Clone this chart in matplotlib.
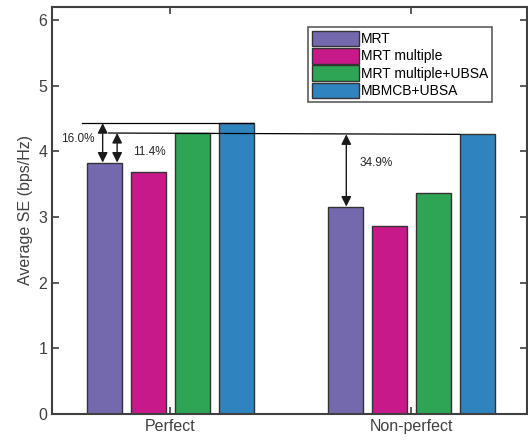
import matplotlib
matplotlib.use('Agg')
import matplotlib.pyplot as plt
import numpy as np

plt.rcParams['font.family'] = ['Liberation Sans', 'DejaVu Sans']

groups = ['Perfect', 'Non-perfect']
methods = ['MRT', 'MRT multiple', 'MRT multiple+UBSA', 'MBMCB+UBSA']
colors = ['#7569AD', '#C7198A', '#2EA554', '#2F83BF']
se_perfect = [3.83, 3.68, 4.28, 4.43]
se_nonperfect = [3.16, 2.86, 3.36, 4.26]
gains = ['16.0%', '11.4%', '34.9%']

fig = plt.figure(figsize=(5.28, 4.45), dpi=100)
ax = fig.add_axes([0.0985, 0.0697, 0.9, 0.9146])

x = np.array([1, 2])
width = 0.145
offsets = [-0.272, -0.09, 0.091, 0.274]
values = np.array([se_perfect, se_nonperfect])
for i, m in enumerate(methods):
    ax.bar(x + offsets[i], values[:, i], width, color=colors[i],
           edgecolor='#333333', linewidth=1.0, label=m, zorder=2)

# reference lines
ax.plot([0.635, 1.345], [se_perfect[3], se_perfect[3]], color='black', lw=0.9, zorder=3)
ax.plot([0.745, 2.2], [se_perfect[2], se_nonperfect[3]], color='black', lw=0.9, zorder=3)

arrow = dict(arrowstyle='<|-|>', color='#1a1a1a', lw=1.0, mutation_scale=15, shrinkA=0, shrinkB=0)
ax.annotate('', xy=(0.72, se_perfect[0]), xytext=(0.72, se_perfect[3]), arrowprops=arrow)
ax.annotate('', xy=(0.78, se_perfect[0]), xytext=(0.78, se_perfect[2]), arrowprops=arrow)
ax.annotate('', xy=(1.73, se_nonperfect[0]), xytext=(1.73, se_nonperfect[3]), arrowprops=arrow)
ax.text(0.615, 4.19, gains[0], fontsize=8.5, ha='center', va='center', color='#262626')
ax.text(0.915, 3.99, gains[1], fontsize=8.5, ha='center', va='center', color='#262626')
ax.text(1.855, 3.82, gains[2], fontsize=8.5, ha='center', va='center', color='#262626')

ax.set_xlim(0.51, 2.48)
ax.set_ylim(0, 6.2)
ax.set_xticks(x)
ax.set_xticklabels(groups)
ax.set_yticks(range(0, 7))
ax.set_ylabel('Average SE (bps/Hz)', fontsize=11.5, color='#404040')
ax.tick_params(direction='in', length=5, width=1.2, colors='#404040', labelsize=11.5,
               top=True, right=True, labelcolor='#404040')
for s in ax.spines.values():
    s.set_color('#404040')
    s.set_linewidth(1.5)

leg = ax.legend(loc='upper left', bbox_to_anchor=(0.539, 0.95), fontsize=10,
                frameon=True, fancybox=False, edgecolor='#333333', handlelength=3.4,
                handleheight=1.35, handletextpad=0.15, labelspacing=0.12,
                borderpad=0.25, borderaxespad=0)
leg.get_frame().set_linewidth(1.2)

fig.savefig('out.png', dpi=100)
